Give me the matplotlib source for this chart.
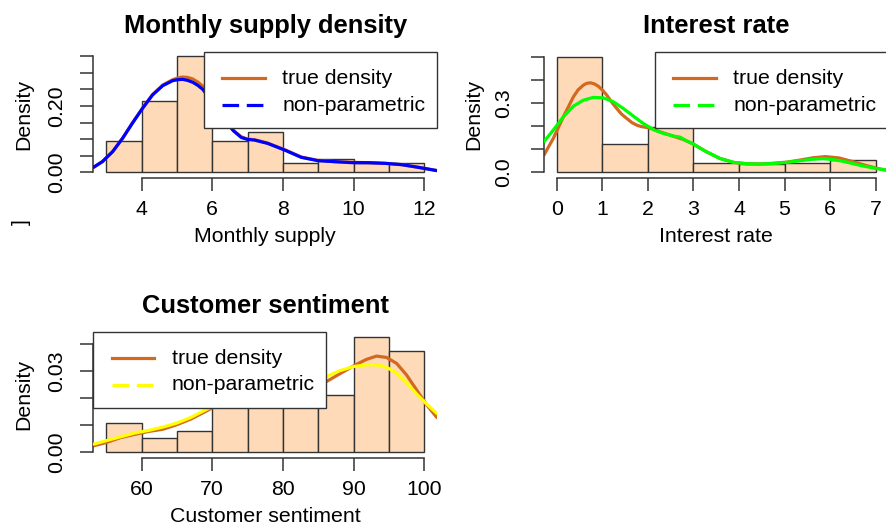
import numpy as np
import matplotlib
matplotlib.use("Agg")
import matplotlib.pyplot as plt
from matplotlib.lines import Line2D
from matplotlib.patches import Rectangle

plt.rcParams['font.family'] = ['Liberation Sans', 'DejaVu Sans']

W, H = 887, 525
FS = 15.3
TITLE_FS = 18.4
FILL = '#FFDAB9'
EDGE = '#333333'
TRUE_COL = '#D2691E'

# --- monthly supply ---
supply_edges = [3, 4, 5, 6, 7, 8, 9, 10, 11, 12]
supply_density = [0.0946, 0.216, 0.351, 0.0946, 0.1216, 0.027, 0.0405, 0.027, 0.027]
supply_x = [2.64, 2.89, 3.18, 3.46, 3.74, 4.03, 4.31, 4.60, 4.88, 5.02, 5.16, 5.30, 5.45, 5.59, 5.73,
            6.0, 6.3, 6.6, 6.82, 7.0, 7.20, 7.57, 8.05, 8.52, 8.99, 9.47, 9.94, 10.41, 10.89, 11.36,
            11.83, 12.36]
supply_true = [0.015, 0.032, 0.062, 0.102, 0.148, 0.194, 0.234, 0.263, 0.279, 0.284, 0.287, 0.286, 0.281,
               0.272, 0.260, 0.218, 0.166, 0.126, 0.107, 0.100, 0.098, 0.088, 0.068, 0.046, 0.036, 0.032,
               0.030, 0.029, 0.027, 0.023, 0.015, 0.005]
supply_kde = [0.015, 0.032, 0.062, 0.102, 0.148, 0.193, 0.233, 0.261, 0.276, 0.279, 0.280, 0.277, 0.271,
              0.262, 0.250, 0.213, 0.163, 0.125, 0.105, 0.099, 0.097, 0.087, 0.067, 0.045, 0.035, 0.032,
              0.029, 0.029, 0.027, 0.023, 0.015, 0.005]
supply_xticks = [4, 6, 8, 10, 12]
supply_yticks = [0.00, 0.05, 0.10, 0.15, 0.20, 0.25, 0.30, 0.35]
supply_ylabels = ['0.00', '', '', '', '0.20', '', '', '']

# --- interest rate ---
rate_edges = [0, 1, 2, 3, 4, 5, 6, 7]
rate_density = [0.5, 0.122, 0.198, 0.04, 0.037, 0.042, 0.054]
rate_true_x = [-0.28, -0.075, 0.145, 0.364, 0.47, 0.584, 0.66, 0.746, 0.83, 0.913, 1.0, 1.097, 1.2,
               1.317, 1.42, 1.536, 1.65, 1.756, 1.85, 1.975, 2.08, 2.194, 2.486, 2.778, 3.0, 3.29,
               3.58, 3.88, 4.17, 4.46, 4.75, 5.05, 5.34, 5.63, 5.9, 6.2, 6.5, 6.8, 7.1, 7.28]
rate_true = [0.075, 0.147, 0.240, 0.326, 0.357, 0.377, 0.385, 0.387, 0.382, 0.372, 0.356, 0.334, 0.305,
             0.276, 0.252, 0.233, 0.215, 0.204, 0.198, 0.194, 0.189, 0.180, 0.161, 0.142, 0.122, 0.088,
             0.060, 0.043, 0.037, 0.036, 0.039, 0.044, 0.053, 0.063, 0.068, 0.062, 0.046, 0.029, 0.014,
             0.008]
rate_kde_x = [-0.28, -0.075, 0.145, 0.364, 0.584, 0.803, 1.023, 1.242, 1.462, 1.681, 1.9, 2.12, 2.34,
              2.56, 2.71, 2.85, 3.0, 3.14, 3.29, 3.58, 3.88, 4.17, 4.46, 4.75, 5.05, 5.34, 5.63, 5.85,
              6.07, 6.3, 6.51, 6.73, 6.95, 7.28]
rate_kde = [0.133, 0.183, 0.240, 0.286, 0.312, 0.324, 0.322, 0.305, 0.276, 0.243, 0.211, 0.185, 0.168,
            0.157, 0.152, 0.136, 0.122, 0.105, 0.089, 0.060, 0.043, 0.037, 0.036, 0.038, 0.043, 0.050,
            0.057, 0.059, 0.055, 0.047, 0.037, 0.027, 0.019, 0.008]
rate_xticks = [0, 1, 2, 3, 4, 5, 6, 7]
rate_yticks = [0.0, 0.1, 0.2, 0.3, 0.4, 0.5]
rate_ylabels = ['0.0', '', '', '0.3', '', '']

# --- customer sentiment ---
senti_edges = [55, 60, 65, 70, 75, 80, 85, 90, 95, 100]
senti_density = [0.0107, 0.0053, 0.008, 0.024, 0.0267, 0.024, 0.0213, 0.0427, 0.0373]
senti_x = [53.2, 55, 57, 59, 61, 63, 65, 67, 69, 71, 74, 77, 80, 83, 86.16, 88.0, 89.93, 91.83, 93.25,
           94.67, 96.09, 97.5, 98.92, 100.34, 101.8]
senti_true = [0.0024, 0.0036, 0.0054, 0.0066, 0.0077, 0.0085, 0.0102, 0.0123, 0.0150, 0.0178, 0.0203,
              0.0218, 0.0229, 0.0243, 0.0261, 0.0289, 0.0318, 0.0343, 0.0355, 0.0350, 0.0328, 0.0285,
              0.0230, 0.0175, 0.0128]
senti_kde = [0.0030, 0.0043, 0.0057, 0.0071, 0.0081, 0.0093, 0.0108, 0.0129, 0.0156, 0.0182, 0.0210,
             0.0228, 0.0245, 0.0262, 0.0279, 0.0301, 0.0316, 0.0323, 0.0323, 0.0314, 0.0292, 0.0257,
             0.0215, 0.0178, 0.0143]
senti_xticks = [60, 70, 80, 90, 100]
senti_yticks = [0.00, 0.01, 0.02, 0.03, 0.04]
senti_ylabels = ['0.00', '', '', '0.03', '']


def px_axes(fig, left, top, right, bottom):
    return fig.add_axes([left / W, 1 - bottom / H, (right - left) / W, (bottom - top) / H])


def draw_panel(ax, edges, dens, x_true, c_true, x_kde, c_kde, kde_color, xlim, ylim,
               xticks, yticks, ylabels, title, xlabel, ypad=10.5):
    ax.bar(edges[:-1], dens, width=np.diff(edges), align='edge', color=FILL,
           edgecolor=EDGE, linewidth=1.0, zorder=1)
    ax.plot(x_true, c_true, color=TRUE_COL, lw=2.3, solid_capstyle='round',
            solid_joinstyle='round', zorder=2)
    ax.plot(x_kde, c_kde, color=kde_color, lw=2.3, solid_capstyle='round',
            solid_joinstyle='round', zorder=3)
    ax.set_xlim(xlim)
    ax.set_ylim(ylim)
    for s in ['top', 'right']:
        ax.spines[s].set_visible(False)
    for s in ['left', 'bottom']:
        ax.spines[s].set_color(EDGE)
        ax.spines[s].set_linewidth(1.1)
    ax.spines['bottom'].set_bounds(xticks[0], xticks[-1])
    ax.spines['left'].set_bounds(yticks[0], yticks[-1])
    ax.set_xticks(xticks)
    ax.set_xticklabels([str(t) for t in xticks])
    ax.set_yticks(yticks)
    ax.set_yticklabels(ylabels, rotation=90, va='center')
    ax.tick_params(axis='both', length=9.1, width=1.1, color=EDGE, labelsize=FS)
    ax.tick_params(axis='x', pad=6.7)
    ax.tick_params(axis='y', pad=ypad)
    ax.set_facecolor('none')
    ax.set_title(title, fontsize=TITLE_FS, fontweight='bold', pad=13.2)
    ax.set_xlabel(xlabel, fontsize=FS, va='center')
    ax.set_ylabel('Density', fontsize=FS, va='center')
    ax.xaxis.set_label_coords(0.5, -58.7 / (ax.bbox.height))
    ax.yaxis.set_label_coords(-70.2 / (ax.bbox.width), 0.5)


def draw_key(fig, left, top, kde_color):
    w, h = 233, 76.7
    fig.add_artist(Rectangle((left / W, 1 - (top + h) / H), w / W, h / H,
                             transform=fig.transFigure, facecolor='white',
                             edgecolor=EDGE, lw=1.0, zorder=5))
    rows = [('true density', TRUE_COL, '-'), ('non-parametric', kde_color, '--')]
    for i, (lab, col, ls) in enumerate(rows):
        y = 1 - (top + 26.6 + 26.7 * i) / H
        ln = Line2D([(left + 18.5) / W, (left + 61) / W], [y, y], transform=fig.transFigure,
                    color=col, lw=2.3, zorder=6)
        if ls == '--':
            ln.set_dashes((5.2, 2.4))
        fig.add_artist(ln)
        fig.text((left + 78.5) / W, y, lab, va='center', ha='left', fontsize=FS, zorder=7)


fig = plt.figure(figsize=(W / 100, H / 100), dpi=100)

ax1 = px_axes(fig, 93.5, 51.7, 437, 178)
draw_panel(ax1, supply_edges, supply_density, supply_x, supply_true, supply_x, supply_kde,
           '#0000FF', (2.64, 12.36), (-0.0172, 0.3633), supply_xticks, supply_yticks,
           supply_ylabels, 'Monthly supply density', 'Monthly supply')
draw_key(fig, 204, 51.7, '#0000FF')

ax2 = px_axes(fig, 544, 51.7, 888.4, 178)
draw_panel(ax2, rate_edges, rate_density, rate_true_x, rate_true, rate_kde_x, rate_kde,
           '#00FF00', (-0.28, 7.28), (-0.0246, 0.5216), rate_xticks, rate_yticks, rate_ylabels,
           'Interest rate', 'Interest rate', ypad=13.0)
draw_key(fig, 655, 51.7, '#00FF00')

ax3 = px_axes(fig, 93.5, 331.7, 437, 458)
draw_panel(ax3, senti_edges, senti_density, senti_x, senti_true, senti_x, senti_kde,
           '#FFFF00', (53.2, 101.8), (-0.0021, 0.0445), senti_xticks, senti_yticks,
           senti_ylabels, 'Customer sentiment', 'Customer sentiment')
draw_key(fig, 93.3, 331.7, '#FFFF00')

# stray glyph at the left margin
fig.text(21.3 / W, 1 - 222.5 / H, ']', rotation=90, fontsize=FS, ha='center', va='center')

fig.savefig('out.png', dpi=100)
